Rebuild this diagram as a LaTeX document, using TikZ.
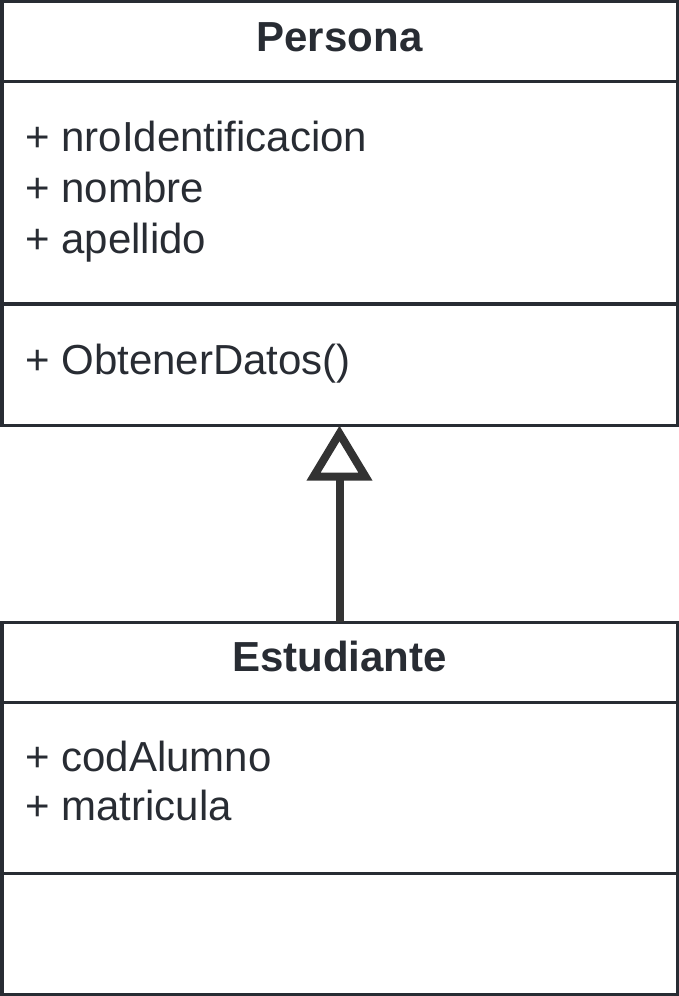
\documentclass[tikz,border=0pt]{standalone}
\usepackage{fontspec}
\setmainfont{Liberation Sans}
\usetikzlibrary{arrows.meta}
\definecolor{umlink}{HTML}{282C33}
\definecolor{umlarrow}{HTML}{333333}
\tikzset{
  classpart/.style={draw=umlink, line width=3.5pt, minimum width=675.5pt, inner sep=0pt, outer sep=0pt},
  classname/.style={font=\fontsize{42}{50}\selectfont\bfseries, text=umlink, inner sep=0pt, anchor=base},
  member/.style={font=\fontsize{42}{50}\selectfont, text=umlink, inner sep=0pt, anchor=base west},
  inherit/.style={draw=umlarrow, line width=8pt, -{Triangle[open, length=55pt, width=64pt]}},
}

\begin{document}
\begin{tikzpicture}[x=1pt, y=-1pt]
    \useasboundingbox (0,0) rectangle (679,996);

    % Persona class
    \node[classpart, minimum height=80pt] (persona-name) at (339.5,41.7) {};
    \node[classpart, minimum height=222.3pt] (persona-attr) at (339.5,192.85) {};
    \node[classpart, minimum height=121.6pt] (persona-ops) at (339.5,364.8) {};
    \node[classname] (persona-title) at (339.5,51.5) {Persona};
    \node[member] (persona-a1) at (25,151) {+ nroIdentificacion};
    \node[member] (persona-a2) at (25,202) {+ nombre};
    \node[member] (persona-a3) at (25,253) {+ apellido};
    \node[member] (persona-m1) at (25,374) {+ ObtenerDatos()};

    % Estudiante class
    \node[classpart, minimum height=80.2pt] (est-name) at (339.5,662.4) {};
    \node[classpart, minimum height=171pt] (est-attr) at (339.5,788) {};
    \node[classpart, minimum height=121pt] (est-ops) at (339.5,934) {};
    \node[classname] (est-title) at (339.5,671.5) {Estudiante};
    \node[member] (est-a1) at (25,771) {+ codAlumno};
    \node[member] (est-a2) at (25,820) {+ matricula};

    % Generalization
    \draw[inherit] (est-name.north) -- (persona-ops.south);

\end{tikzpicture}
\end{document}
